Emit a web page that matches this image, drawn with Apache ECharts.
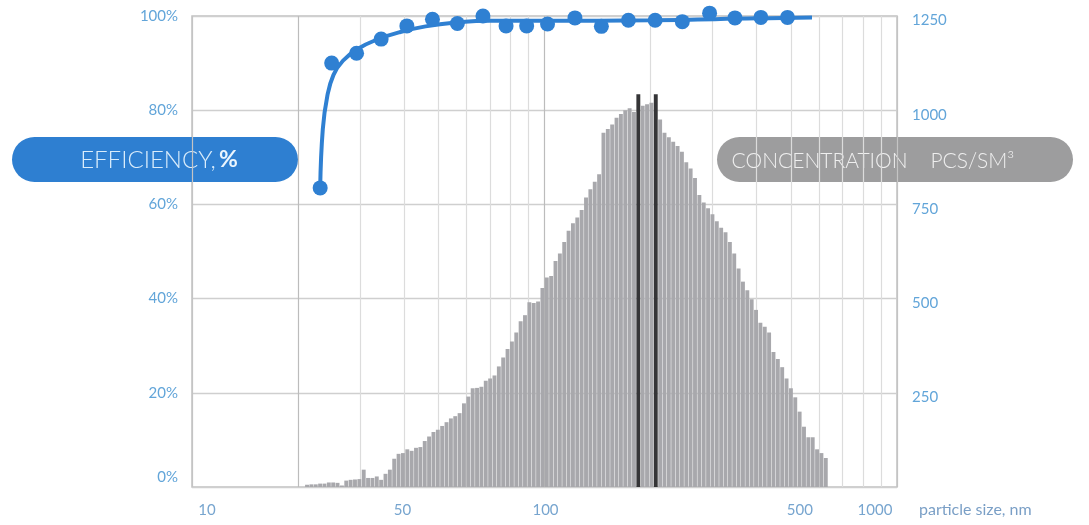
<!DOCTYPE html>
<html>
<head>
<meta charset="utf-8">
<script src="https://cdn.jsdelivr.net/npm/echarts@6/dist/echarts.min.js"></script>
<style>
  html, body { margin: 0; padding: 0; background: #ffffff; }
  #chart { width: 1089px; height: 525px; }
</style>
</head>
<body>
<div id="chart"></div>
<script>
// Particle size axis (nm), drawn on a log10 scale
const sizeGridTicks = [10, 20, 30, 40, 50, 60, 70, 80, 90, 100, 200, 300, 400, 500, 600, 700, 800, 900, 1000];
const sizeLabels = [10, 50, 100, 500, 1000];

// Histogram: log-uniform bins between these edges (nm)
const binFrom = 20.9;
const binTo = 637;
const concentration = [
  6, 7, 7, 9, 9, 12, 12, 11, 4, 17,
  19, 20, 21, 46, 24, 24, 28, 19, 35, 46,
  75, 88, 90, 100, 96, 104, 106, 122, 134, 146,
  152, 162, 172, 182, 188, 196, 222, 240, 262, 263,
  266, 282, 288, 296, 320, 344, 366, 386, 410, 440,
  456, 490, 488, 492, 528, 556, 560, 600, 620, 650,
  680, 700, 715, 735, 768, 790, 810, 830, 940, 950,
  962, 980, 990, 1000, 1005, 995, 1042, 1012, 1016, 1020,
  1042, 975, 940, 928, 916, 905, 890, 862, 845, 820,
  775, 755, 740, 724, 705, 688, 676, 650, 620, 580,
  545, 522, 498, 470, 436, 425, 410, 358, 340, 318,
  288, 262, 238, 200, 160, 132, 132, 100, 90, 77
];
const highlightBins = [76, 80];

// Measured filtration efficiency (%)
const effSize = [23.1, 24.9, 29.3, 34.4, 40.7, 48.1, 56.6, 66.9, 77.8, 89.0, 102, 122, 145, 173, 206, 246, 294, 347, 411, 489];
const effValue = [63.5, 90.0, 92.1, 95.1, 97.9, 99.3, 98.4, 100.0, 97.9, 97.9, 98.3, 99.6, 97.8, 99.1, 99.1, 98.8, 100.6, 99.6, 99.7, 99.7];

// Trend curve through the efficiency measurements
const fitSize = [23.1, 23.5, 24.2, 25.2, 26.8, 29.5, 33.5, 39, 46, 56, 70, 100, 200, 400, 574];
const fitValue = [63.5, 76.0, 83.0, 87.5, 90.5, 93.0, 95.0, 96.6, 97.8, 98.6, 99.0, 99.0, 99.1, 99.5, 99.7];

// Axis tick values
const percentTicks = [0, 20, 40, 60, 80, 100];
const concTicks = [0, 250, 500, 750, 1000, 1250];

const lg = Math.log10;

const nBins = concentration.length;
const lgFrom = lg(binFrom), lgStep = (lg(binTo) - lg(binFrom)) / nBins;
const barData = concentration.map((v, i) => {
  const item = { value: [lgFrom + (i + 0.5) * lgStep, v] };
  if (highlightBins.includes(i)) {
    item.itemStyle = { color: '#353537' };
  }
  return item;
});

const effData = effSize.map((s, i) => [lg(s), effValue[i]]);
const fitData = fitSize.map((s, i) => [lg(s), fitValue[i]]);

const labelBlue = '#62a5d9';
const sizeBlue = '#77a5cf';
const font = 'Lato, "Open Sans", sans-serif';

// Per-tick grid colours: decade lines and the 20 nm line are darker
const gridColors = sizeGridTicks.map(t => (t === 10 || t === 1000) ? '#c4c4c4' : (t === 20 || t === 100) ? '#bcbcbc' : '#dcdcdc');

// Label nudges (rich padding) for the size axis
const sizeLabelStyle = { 10: 'l10', 50: 'l50', 100: 'l100', 500: 'l500', 1000: 'l1000' };
const sizeRich = (pad) => ({ padding: pad, fontSize: 15, color: sizeBlue, fontFamily: font });

const chart = echarts.init(document.getElementById('chart'), null, { renderer: 'canvas' });

chart.setOption({
  backgroundColor: '#ffffff',
  animation: false,
  grid: {
    left: 192, right: 192, top: 16, bottom: 38,
    outerBoundsMode: 'none',
    containLabel: false,
    show: true, borderColor: '#c2c2c2', borderWidth: 1.5, backgroundColor: 'transparent'
  },
  xAxis: {
    type: 'value',
    min: lg(10), max: lg(1000),
    axisLine: { show: false },
    axisTick: { show: false, customValues: sizeGridTicks.map(lg) },
    splitLine: { show: true, lineStyle: { color: gridColors, width: 1.2 } },
    axisLabel: {
      customValues: sizeLabels.map(lg),
      margin: 16,
      color: sizeBlue,
      fontFamily: font,
      fontSize: 15,
      formatter: v => {
        const n = Math.round(Math.pow(10, v));
        return '{' + sizeLabelStyle[n] + '|' + n + '}';
      },
      rich: {
        l10: sizeRich([0, 0, 0, 30]),
        l50: sizeRich([0, 72, 0, 0]),
        l100: sizeRich([0, 0, 0, 2]),
        l500: sizeRich([0, 0, 0, 18]),
        l1000: sizeRich([0, 44, 0, 0])
      }
    },
    name: 'particle size, nm',
    nameLocation: 'end',
    nameGap: 22,
    nameTextStyle: { color: '#7a9fc6', fontFamily: font, fontSize: 16, align: 'left', verticalAlign: 'top', lineHeight: 46 }
  },
  yAxis: [
    {
      type: 'value', min: 0, max: 100, interval: 20,
      axisLine: { show: false }, axisTick: { show: false },
      splitLine: { show: true, lineStyle: { color: '#cfcfcf', width: 1.3 } },
      axisLabel: {
        margin: 14, color: labelBlue, fontFamily: font, fontSize: 15,
        formatter: v => v === 0 ? '{z|0%}' : v + '%',
        rich: { z: { padding: [0, 0, 20, 0], color: labelBlue, fontFamily: font, fontSize: 15 } }
      }
    },
    {
      type: 'value', min: 0, max: 1250, interval: 250,
      axisLine: { show: false }, axisTick: { show: false }, splitLine: { show: false },
      axisLabel: {
        margin: 15, color: labelBlue, fontFamily: font, fontSize: 15,
        showMinLabel: false,
        formatter: v => '{r|' + v + '}',
        rich: { r: { padding: [9, 0, 0, 0], color: labelBlue, fontFamily: font, fontSize: 15 } }
      }
    }
  ],
  series: [
    {
      name: 'Concentration',
      type: 'bar',
      yAxisIndex: 1,
      barWidth: 3.9,
      itemStyle: { color: '#a8a8ac' },
      data: barData,
      z: 2
    },
    {
      name: 'Efficiency trend',
      type: 'line',
      yAxisIndex: 0,
      data: fitData,
      smooth: 0.45,
      showSymbol: false,
      clip: false,
      lineStyle: { color: '#2f80d2', width: 4 },
      z: 4
    },
    {
      name: 'Efficiency',
      type: 'scatter',
      yAxisIndex: 0,
      data: effData,
      symbolSize: 15,
      clip: false,
      itemStyle: { color: '#2f80d2', opacity: 1 },
      z: 5
    }
  ],
  graphic: [
    {
      type: 'group', left: 12, top: 137, z: 10,
      children: [
        { type: 'rect', shape: { x: 0, y: 0, width: 286, height: 45, r: 22.5 }, style: { fill: '#2e7fd1' } },
        {
          type: 'text', x: 147, y: 23,
          style: {
            text: '{a|EFFICIENCY,} {b|%}',
            align: 'center', verticalAlign: 'middle',
            rich: {
              a: { fill: '#d9ecfb', fontSize: 24, fontFamily: font, fontWeight: 300 },
              b: { fill: '#eaf5fe', fontSize: 23, fontWeight: 'bold', fontFamily: font }
            }
          }
        }
      ]
    },
    {
      type: 'group', left: 717, top: 137, z: 10,
      children: [
        { type: 'rect', shape: { x: 0, y: 0, width: 356, height: 45, r: 22.5 }, style: { fill: '#9d9d9e' } },
        {
          type: 'text', x: 156, y: 24,
          style: {
            text: 'CONCENTRATION    PCS/SM³',
            align: 'center', verticalAlign: 'middle',
            fill: '#efefef', fontSize: 21, fontFamily: font, fontWeight: 300
          }
        }
      ]
    }
  ]
});
</script>
</body>
</html>
